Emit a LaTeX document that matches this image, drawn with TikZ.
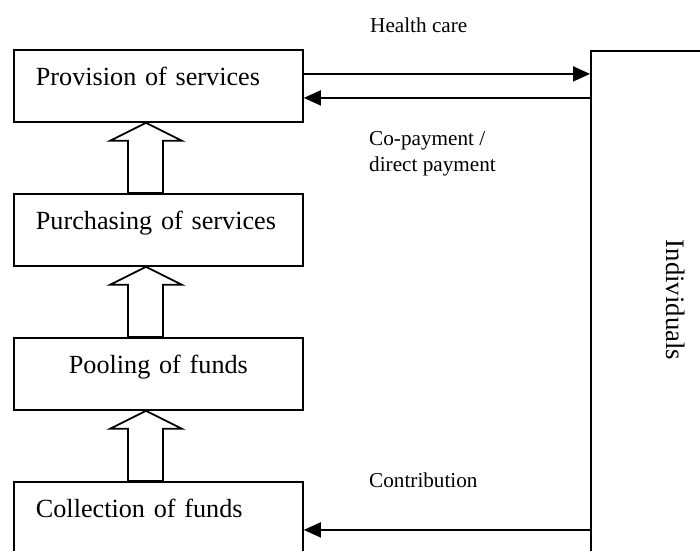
\documentclass[tikz,border=0pt]{standalone}
\usepackage{fontspec}
\setmainfont{Liberation Serif}
\usetikzlibrary{arrows.meta,calc}
\begin{document}
\begin{tikzpicture}[x=1pt,y=-1pt,
  stage/.style={draw, line width=1.8pt, anchor=north west,
    text width=245pt, inner xsep=22pt, inner ysep=18pt,
    text height=18pt, text depth=18pt, align=left,
    font=\fontsize{26.2}{32}\selectfont},
  flowlabel/.style={anchor=base west, inner sep=0pt, align=left,
    font=\fontsize{21.2}{26}\selectfont},
  flow/.style={line width=1.8pt, -{Triangle[length=17pt,width=15pt]}},
  blockarrow/.style={line width=1.8pt, line join=miter}]
  \useasboundingbox (0,0) rectangle (700,550);
  \clip (0,0) rectangle (700,550);

  % the four stages of health financing
  \node[stage] (prov) at (13,49)  {Provision of services};
  \node[stage] (purch) at (13,193) {Purchasing of services};
  \node[stage, align=center] (pool) at (13,337) {Pooling of funds};
  \node[stage, text depth=42pt] (coll) at (13,481) {Collection of funds};

  % individuals column on the right
  \node[draw, line width=1.8pt, anchor=north west, minimum width=150pt,
        minimum height=530pt, inner sep=0pt] (ind) at (590,50) {};
  \node[rotate=-90, inner sep=0pt, text height=9pt, text depth=0pt,
        font=\fontsize{26.7}{32}\selectfont] (indlabel) at (671,300) {Individuals};

  % hollow upward block arrows between stages
  \newcommand\upblock[2]{%
    \draw[blockarrow] ($(#2.south west)+(133,0)$) -- ++(36,18) -- ++(-19,0)
      -- ($(#1.north west)+(150,0)$) -- ($(#1.north west)+(115,0)$)
      -- ($(#2.south west)+(115,18)$) -- ++(-18,0) -- cycle;}
  \upblock{purch}{prov}
  \upblock{pool}{purch}
  \upblock{coll}{pool}

  % flows between stages and individuals
  \draw[flow] ([yshift=12pt]prov.east) -- ([yshift=12pt]prov.east -| ind.west);
  \draw[flow] ([yshift=-12pt]prov.east -| ind.west) -- ([yshift=-12pt]prov.east);
  \draw[flow] (coll.east -| ind.west) -- (coll.east);

  % flow labels
  \node[flowlabel] (hc) at (370,32) {Health care};
  \node[flowlabel] (cop) at (369,171) {Co-payment /\\direct payment};
  \node[flowlabel] (contr) at (369,487) {Contribution};
\end{tikzpicture}
\end{document}
